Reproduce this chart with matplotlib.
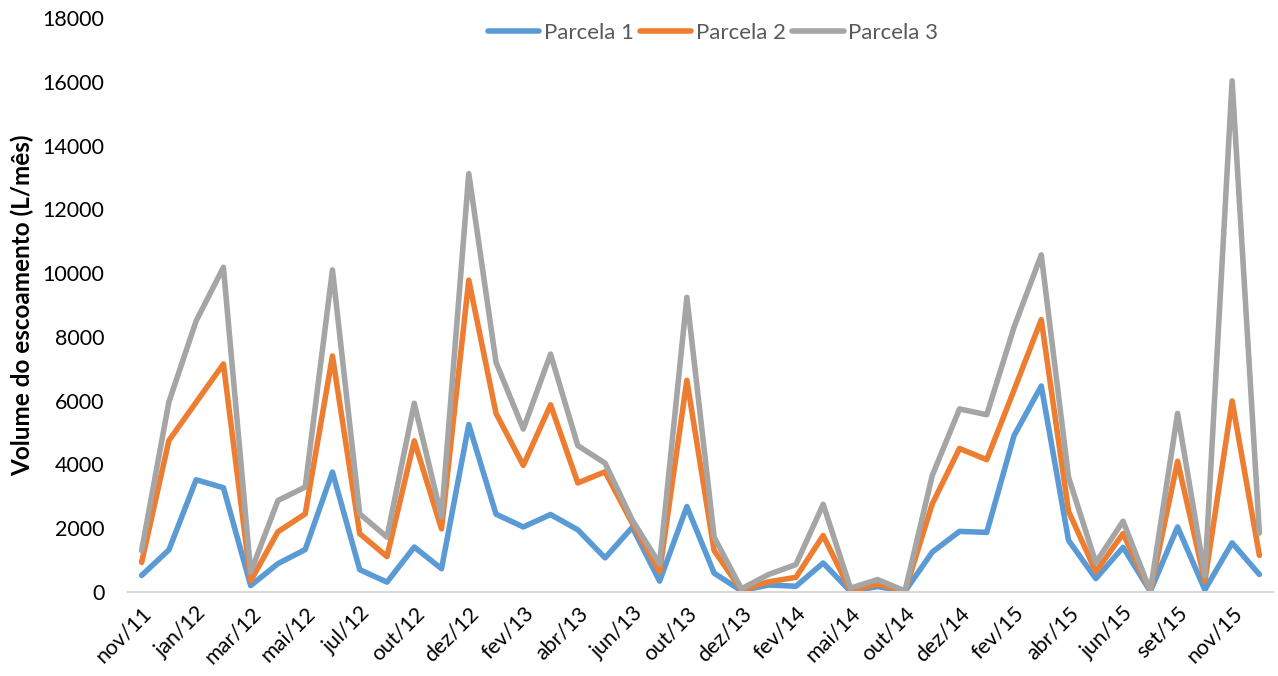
import matplotlib
matplotlib.use("Agg")
import matplotlib.pyplot as plt

plt.rcParams['font.family'] = ['Lato', 'DejaVu Sans']

months = [
    "nov/11", "dez/11", "jan/12", "fev/12", "mar/12", "abr/12", "mai/12", "jun/12",
    "jul/12", "set/12", "out/12", "nov/12", "dez/12", "jan/13", "fev/13", "mar/13",
    "abr/13", "mai/13", "jun/13", "set/13", "out/13", "nov/13", "dez/13", "jan/14",
    "fev/14", "mar/14", "mai/14", "set/14", "out/14", "nov/14", "dez/14", "jan/15",
    "fev/15", "mar/15", "abr/15", "mai/15", "jun/15", "ago/15", "set/15", "out/15",
    "nov/15", "dez/15",
]

parcela_1 = [520, 1320, 3520, 3270, 200, 890, 1330, 3760, 700, 310,
             1410, 730, 5250, 2440, 2040, 2430, 1950, 1070, 2030, 340,
             2680, 590, 40, 220, 180, 910, 20, 170, 20, 1250,
             1900, 1870, 4900, 6460, 1620, 420, 1400, 20, 2040, 70,
             1540, 550]

parcela_2 = [930, 4750, 5950, 7150, 350, 1890, 2450, 7400, 1830, 1110,
             4740, 1980, 9780, 5600, 3970, 5870, 3420, 3770, 2150, 630,
             6640, 1300, 60, 320, 460, 1770, 40, 250, 20, 2760,
             4500, 4150, 6330, 8540, 2530, 640, 1830, 20, 4100, 340,
             5990, 1150]

parcela_3 = [1300, 5960, 8500, 10180, 620, 2870, 3290, 10100, 2450, 1720,
             5920, 2350, 13120, 7200, 5110, 7460, 4590, 4040, 2250, 880,
             9240, 1720, 100, 550, 860, 2750, 120, 390, 30, 3650,
             5740, 5560, 8300, 10570, 3600, 920, 2220, 30, 5600, 500,
             16030, 1850]

series = [("Parcela 1", parcela_1, "#5B9BD5"),
          ("Parcela 2", parcela_2, "#ED7D31"),
          ("Parcela 3", parcela_3, "#A5A5A5")]

y_ticks = list(range(0, 18001, 2000))

W, H = 1278, 676
fig = plt.figure(figsize=(W / 100, H / 100), dpi=100)
ax = fig.add_axes([128 / W, 1 - 592 / H, (1273 - 128) / W, (592 - 18) / H])

x = list(range(len(months)))
for name, values, color in series:
    ax.plot(x, values, color=color, lw=4.0, label=name,
            solid_joinstyle='round', solid_capstyle='round')

ax.set_xlim(-0.5, len(months) - 0.5)
ax.set_ylim(0, 18000)
ax.set_yticks(y_ticks)
ax.set_yticklabels([str(v) for v in y_ticks], fontsize=15.5, color='#000000')
ax.set_xticks(x[::2])
ax.set_xticklabels(months[::2], rotation=45, ha='right',
                   rotation_mode='anchor', fontsize=15.5, color='#000000')
ax.tick_params(axis='both', length=0)
ax.tick_params(axis='y', pad=17)
ax.tick_params(axis='x', pad=8)

for side in ('top', 'right', 'left'):
    ax.spines[side].set_visible(False)
ax.spines['bottom'].set_color('#D9D9D9')
ax.spines['bottom'].set_linewidth(1.5)

fig.text(22 / W, 1 - 305 / H, "Volume do escoamento (L/mês)", rotation=90,
         ha='center', va='center', fontsize=17.5, fontweight='bold', color='#000000')

leg = fig.legend(loc='center', bbox_to_anchor=(713 / W, 1 - 33 / H), ncol=3,
                 frameon=False, fontsize=16, handlelength=2.3,
                 handletextpad=0.2, columnspacing=0.3)
for t in leg.get_texts():
    t.set_color('#595959')

fig.savefig("out.png", dpi=100)
